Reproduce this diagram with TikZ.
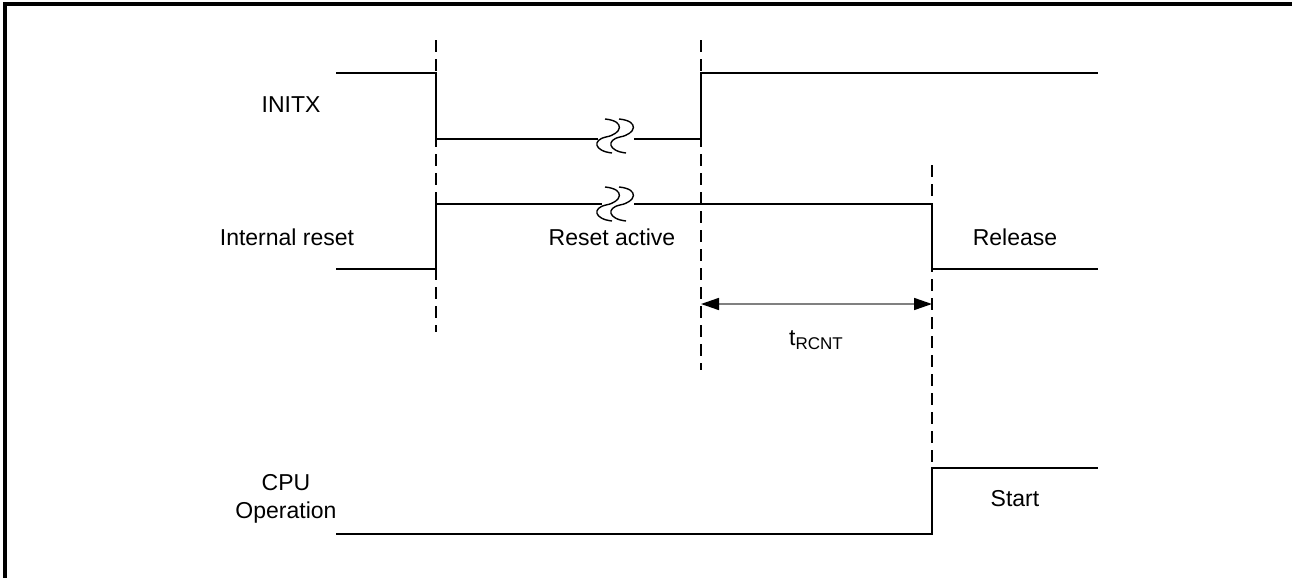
\documentclass[tikz,border=0pt]{standalone}
\usepackage{fontspec}
\setmainfont{Liberation Sans}
\usetikzlibrary{arrows.meta}
\begin{document}
\begin{tikzpicture}[x=0.5pt,y=-0.5pt,
  sig/.style={line width=1.3pt,line join=miter},
  guide/.style={line width=0.75pt,dash pattern=on 6pt off 3.5pt},
  frameline/.style={line width=1.6pt},
  lbl/.style={inner sep=0pt,font=\fontsize{11.5}{14}\selectfont,align=center},
  brk/.style={line width=0.7pt},
  dim/.style={line width=0.8pt,draw=black!50,{Triangle[length=9pt,width=6pt,fill=black,color=black]}-{Triangle[length=9pt,width=6pt,fill=black,color=black]}}]
\useasboundingbox (0,0) rectangle (1292,578);
% frame
\draw[frameline] (5,578) -- (5,4) -- (1292,4);
% guides
\draw[guide] (436,40) -- (436,332);
\draw[guide] (701,40) -- (701,370);
\draw[guide] (932,165) -- (932,468);
% INITX
\coordinate (i0) at (336,73);
\coordinate (i1) at (598,139);
\coordinate (i2) at (634,139);
\coordinate (i3) at (1098,73);
\draw[sig] (i0) -- (436,73) -- (436,139) -- (i1);
\draw[sig] (i2) -- (701,139) -- (701,73) -- (i3);
% Internal reset
\coordinate (r0) at (336,269);
\coordinate (r1) at (602,204);
\coordinate (r2) at (634,204);
\coordinate (r3) at (1098,269);
\draw[sig] (r0) -- (436,269) -- (436,204) -- (r1);
\draw[sig] (r2) -- (932,204) -- (932,269) -- (r3);
% CPU
\coordinate (c0) at (336,534);
\coordinate (c1) at (1098,468);
\draw[sig] (c0) -- (932,534) -- (932,468) -- (c1);
% break marks
\foreach \yy in {136,204}{
  \foreach \dx in {0,14}{
    \draw[brk,shift={(\dx,\yy)}] (605,-17) .. controls (626,-15) and (622,-2) .. (606,1)
      .. controls (592,4) and (594,15) .. (612,17);
  }
}
% dimension arrow
\coordinate (d0) at (701,304);
\coordinate (d1) at (932,304);
\draw[dim] (d0) -- (d1);
% labels
\node[lbl] (linitx) at (291,105) {INITX};
\node[lbl] (lrst) at (287,237) {Internal reset};
\node[lbl] (lact) at (612,237) {Reset active};
\node[lbl] (lrel) at (1015,237) {Release};
\node[lbl] (lcpu) at (286,499) {CPU\\Operation};
\node[lbl] (lstart) at (1015,499) {Start};
\node[lbl,anchor=base] (ltr) at (816,345) {t\raisebox{-0.35ex}{\fontsize{8.5}{10}\selectfont RCNT}};
\end{tikzpicture}
\end{document}
